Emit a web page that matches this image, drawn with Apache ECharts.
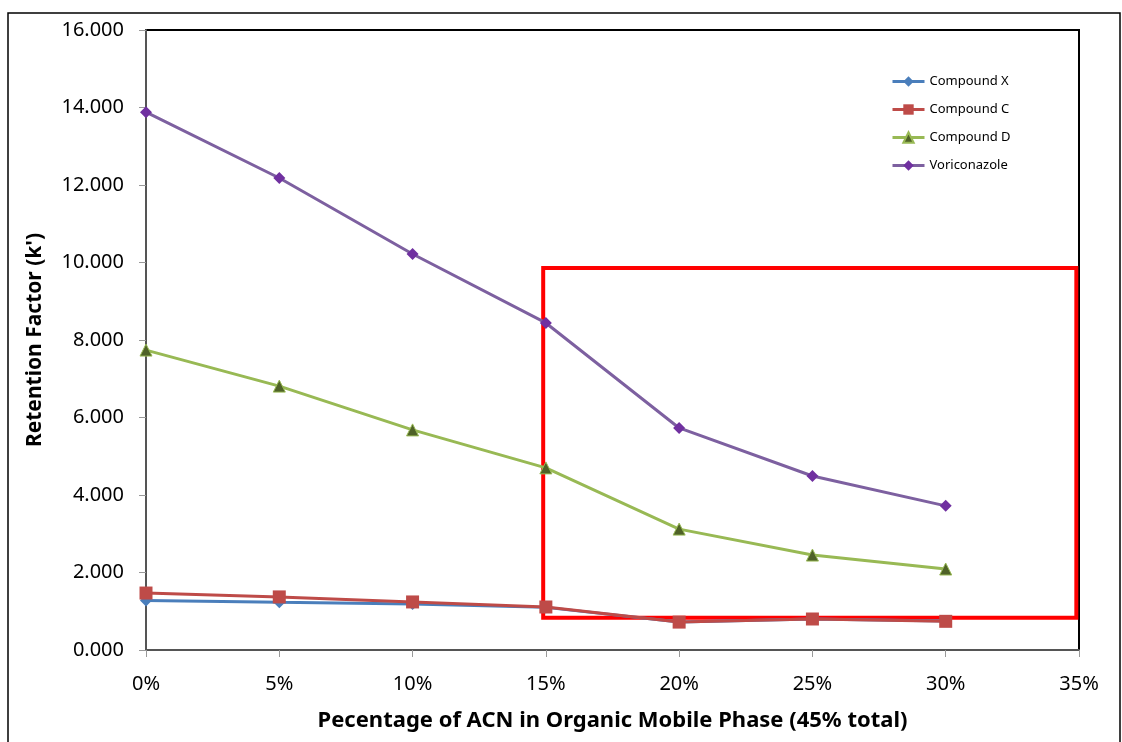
<!DOCTYPE html>
<html><head><meta charset="utf-8">
<script src="https://cdn.jsdelivr.net/npm/echarts@6/dist/echarts.min.js"></script>
<style>html,body{margin:0;padding:0;background:#fff}#c{width:1122px;height:742px}</style>
</head><body><div id="c"></div>
<script>
const acnPct = [0, 5, 10, 15, 20, 25, 30];
const compoundX = [1.28, 1.23, 1.19, 1.10, 0.72, 0.80, 0.75];
const compoundC = [1.47, 1.37, 1.24, 1.11, 0.72, 0.80, 0.74];
const compoundD = [7.74, 6.81, 5.68, 4.70, 3.12, 2.45, 2.09];
const voriconazole = [13.88, 12.18, 10.22, 8.44, 5.73, 4.49, 3.72];
const boxX = [14.9, 34.9];
const boxY = [0.83, 9.86];

const pairs = arr => acnPct.map((x, i) => [x, arr[i]]);
const chart = echarts.init(document.getElementById('c'));
const font = 'Noto Sans';
chart.setOption({
  animation: false,
  textStyle: {fontFamily: font},
  graphic: [{type: 'rect', shape: {x: 8, y: 13, width: 1112, height: 740}, style: {fill: 'none', stroke: '#000', lineWidth: 1.5}, z: -10}],
  grid: {left: 146, top: 30, width: 933, height: 620, show: true, borderColor: '#000', borderWidth: 2, backgroundColor: '#fff'},
  legend: {
    orient: 'vertical', left: 886, top: 70, itemGap: 15, itemWidth: 32, itemHeight: 13,
    lineStyle: {width: 3},
    textStyle: {fontSize: 13, fontFamily: font, color: '#000'},
    data: ['Compound X', 'Compound C', 'Compound D', 'Voriconazole']
  },
  xAxis: {
    type: 'value', min: 0, max: 35, interval: 5,
    name: 'Pecentage of ACN in Organic Mobile Phase (45% total)', nameLocation: 'middle', nameGap: 60,
    nameTextStyle: {fontSize: 22, fontWeight: 'bold', color: '#000', fontFamily: font},
    axisLine: {lineStyle: {color: '#555', width: 2}},
    axisTick: {show: true, length: 7, lineStyle: {color: '#999'}},
    axisLabel: {fontSize: 20, color: '#000', margin: 24, formatter: v => v + '%'},
    splitLine: {show: false}
  },
  yAxis: {
    type: 'value', min: 0, max: 16, interval: 2,
    name: "Retention Factor (k')", nameLocation: 'middle', nameGap: 100,
    nameTextStyle: {fontSize: 21, fontWeight: 'bold', color: '#000', fontFamily: font},
    axisLine: {show: true, lineStyle: {color: '#555', width: 2}},
    axisTick: {show: true, length: 7, lineStyle: {color: '#999'}},
    axisLabel: {fontSize: 20, color: '#000', margin: 22, formatter: v => v.toFixed(3)},
    splitLine: {show: false}
  },
  series: [
    {name: 'Compound X', type: 'line', data: pairs(compoundX), symbol: 'diamond', symbolSize: 12,
     lineStyle: {color: '#4a7ebb', width: 3}, itemStyle: {color: '#4a7ebb'}, z: 2},
    {name: 'Compound C', type: 'line', data: pairs(compoundC), symbol: 'rect', symbolSize: 13,
     lineStyle: {color: '#be4b48', width: 3}, itemStyle: {color: '#be4b48'}, z: 3},
    {name: 'Compound D', type: 'line', data: pairs(compoundD), symbol: 'triangle', symbolSize: 12,
     lineStyle: {color: '#98b954', width: 3}, itemStyle: {color: '#4f6228', borderColor: '#98b954', borderWidth: 1}, z: 4},
    {name: 'Voriconazole', type: 'line', data: pairs(voriconazole), symbol: 'diamond', symbolSize: 12,
     lineStyle: {color: '#7d60a0', width: 3}, itemStyle: {color: '#7030a0'}, z: 5,
     markArea: {silent: true, itemStyle: {color: 'rgba(0,0,0,0)', borderColor: '#ff0000', borderWidth: 4},
       data: [[{coord: [boxX[0], boxY[1]]}, {coord: [boxX[1], boxY[0]]}]]}}
  ]
});
</script></body></html>
